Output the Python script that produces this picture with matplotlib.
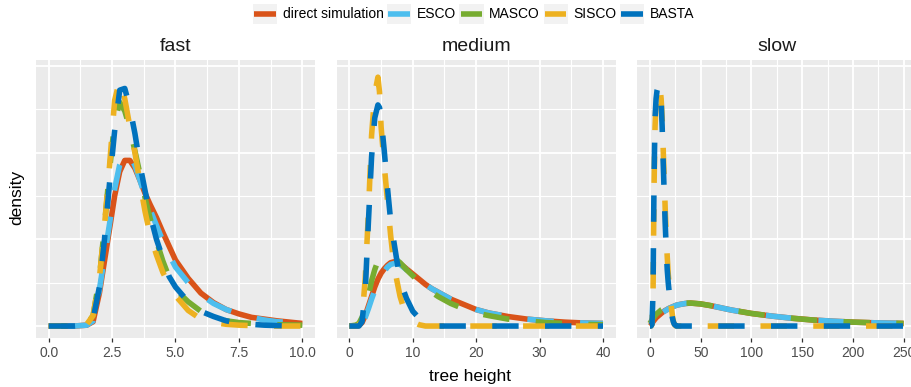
import matplotlib
matplotlib.use("Agg")
import matplotlib.pyplot as plt
from matplotlib.lines import Line2D
from matplotlib.patches import Rectangle
from matplotlib.legend_handler import HandlerBase

plt.rcParams['font.family'] = ['Liberation Sans', 'DejaVu Sans']
plt.rcParams['lines.scale_dashes'] = False

# ---------------- data ----------------
series_names = ["direct simulation", "ESCO", "MASCO", "SISCO", "BASTA"]
series_colors = ["#D95319", "#4DBEEE", "#77AC30", "#EDB120", "#0072BD"]
panel_titles = ["fast", "medium", "slow"]

fast_x = [0, 1, 1.5, 1.75, 2.0, 2.2, 2.4, 2.6, 2.8, 3.0, 3.2, 3.4, 3.6, 3.8, 4.0,
          4.25, 4.5, 4.75, 5.0, 5.5, 6.0, 6.5, 7.0, 7.5, 8.0, 8.5, 9.0, 10.0]
fast_direct = [0, 0, 0.01, 0.05, 0.38, 0.75, 1.12, 1.5, 1.78, 1.91, 1.91, 1.82, 1.68, 1.53, 1.40,
               1.25, 1.08, 0.92, 0.76, 0.55, 0.38, 0.27, 0.19, 0.14, 0.10, 0.08, 0.06, 0.03]
fast_esco = [0, 0, 0.01, 0.06, 0.42, 0.8, 1.18, 1.58, 1.86, 1.99, 1.97, 1.85, 1.68, 1.5, 1.34,
             1.16, 0.98, 0.82, 0.68, 0.5, 0.36, 0.26, 0.19, 0.14, 0.10, 0.07, 0.05, 0.03]
fast_masco = [0, 0, 0.02, 0.12, 0.55, 1.15, 1.8, 2.35, 2.58, 2.48, 2.28, 2.02, 1.75, 1.48, 1.24,
              0.98, 0.75, 0.56, 0.42, 0.28, 0.17, 0.10, 0.06, 0.04, 0.03, 0.02, 0.015, 0.01]
fast_sisco = [0, 0, 0.02, 0.12, 0.55, 1.15, 1.85, 2.6, 2.84, 2.62, 2.3, 2.0, 1.65, 1.32, 1.05,
              0.82, 0.62, 0.47, 0.35, 0.18, 0.08, 0.04, 0.02, 0.01, 0.005, 0, 0, 0]
fast_basta = [0, 0, 0.01, 0.08, 0.45, 1.0, 1.65, 2.25, 2.72, 2.74, 2.52, 2.22, 1.86, 1.56, 1.28,
              1.0, 0.78, 0.57, 0.45, 0.28, 0.17, 0.11, 0.06, 0.03, 0.02, 0.01, 0.005, 0]

medium_x = [0, 1, 1.5, 2, 2.5, 3, 3.5, 4, 4.5, 4.75, 5, 5.5, 6, 6.5, 7, 7.5, 8, 8.5, 9,
            10, 11, 12, 13, 14, 16, 18, 20, 22, 25, 28, 31, 34, 37, 40]
medium_direct = [0, 0, 0.005, 0.04, 0.12, 0.23, 0.34, 0.45, 0.54, 0.575, 0.61, 0.66, 0.70, 0.73,
                 0.74, 0.74, 0.72, 0.69, 0.66, 0.60, 0.54, 0.48, 0.43, 0.39, 0.31, 0.25, 0.19,
                 0.15, 0.11, 0.08, 0.06, 0.045, 0.035, 0.03]
medium_esco = [0, 0, 0.005, 0.03, 0.1, 0.2, 0.31, 0.41, 0.5, 0.535, 0.57, 0.63, 0.68, 0.71,
               0.72, 0.72, 0.71, 0.68, 0.65, 0.6, 0.54, 0.48, 0.43, 0.39, 0.31, 0.25, 0.19,
               0.15, 0.11, 0.08, 0.06, 0.045, 0.035, 0.03]
medium_masco = [0, 0.01, 0.03, 0.1, 0.2, 0.35, 0.52, 0.65, 0.75, 0.78, 0.8, 0.82, 0.82, 0.81,
                0.79, 0.76, 0.73, 0.69, 0.65, 0.58, 0.51, 0.45, 0.39, 0.34, 0.26, 0.2, 0.15,
                0.12, 0.08, 0.06, 0.04, 0.03, 0.02, 0.015]
medium_sisco = [0, 0, 0.01, 0.08, 0.55, 1.3, 2.2, 2.68, 2.87, 2.7, 2.3, 1.85, 1.45, 1.05, 0.72,
                0.52, 0.34, 0.22, 0.14, 0.05, 0.015, 0, 0, 0, 0, 0, 0, 0, 0, 0, 0, 0, 0, 0]
medium_basta = [0, 0, 0, 0.05, 0.4, 1.2, 1.95, 2.4, 2.55, 2.52, 2.4, 2.02, 1.6, 1.22, 0.98,
                0.75, 0.55, 0.42, 0.32, 0.17, 0.09, 0.03, 0.01, 0, 0, 0, 0, 0, 0, 0, 0, 0, 0, 0]

slow_x = [0, 1, 2, 3, 4, 5, 6, 7, 8, 9, 10, 11, 12, 13, 14, 15, 16, 17, 18, 19, 20, 21, 22,
          23, 24, 25, 26, 28, 30, 35, 40, 50, 60, 70, 80, 100, 120, 140, 160, 180, 200, 225, 250]
slow_direct = [0, 0.01, 0.03, 0.05, 0.065, 0.08, 0.095, 0.105, 0.115, 0.125, 0.135, 0.145, 0.155,
               0.165, 0.17, 0.18, 0.185, 0.19, 0.2, 0.205, 0.21, 0.215, 0.22, 0.225, 0.23, 0.235,
               0.24, 0.245, 0.25, 0.26, 0.265, 0.255, 0.235, 0.21, 0.185, 0.145, 0.115, 0.09,
               0.07, 0.056, 0.045, 0.036, 0.03]
slow_esco = [0, 0.01, 0.025, 0.045, 0.06, 0.075, 0.09, 0.1, 0.11, 0.12, 0.13, 0.14, 0.15,
             0.16, 0.168, 0.176, 0.183, 0.19, 0.198, 0.204, 0.21, 0.215, 0.22, 0.225, 0.23, 0.235,
             0.24, 0.245, 0.25, 0.26, 0.265, 0.255, 0.235, 0.21, 0.185, 0.145, 0.115, 0.09,
             0.07, 0.056, 0.045, 0.036, 0.03]
slow_masco = [0.03, 0.05, 0.07, 0.09, 0.105, 0.12, 0.135, 0.145, 0.155, 0.165, 0.175, 0.185,
              0.19, 0.2, 0.205, 0.21, 0.215, 0.22, 0.225, 0.23, 0.235, 0.24, 0.24, 0.245, 0.25,
              0.25, 0.255, 0.26, 0.26, 0.265, 0.265, 0.255, 0.235, 0.21, 0.185, 0.145, 0.115,
              0.09, 0.07, 0.056, 0.045, 0.036, 0.03]
slow_sisco = [0, 0, 0.02, 0.35, 1.6, 2.3, 2.58, 2.7, 2.75, 2.76, 2.74, 2.62, 2.4, 2.05, 1.7,
              1.35, 1.05, 0.8, 0.6, 0.45, 0.33, 0.22, 0.13, 0.06, 0.02, 0.005, 0, 0, 0, 0, 0,
              0, 0, 0, 0, 0, 0, 0, 0, 0, 0, 0, 0]
slow_basta = [0, 0, 0.02, 0.4, 1.7, 2.4, 2.62, 2.72, 2.76, 2.78, 2.76, 2.6, 2.3, 1.9, 1.53,
              1.18, 0.9, 0.65, 0.5, 0.38, 0.28, 0.18, 0.1, 0.05, 0.02, 0.01, 0, 0, 0, 0, 0,
              0, 0, 0, 0, 0, 0, 0, 0, 0, 0, 0, 0]

fast_ticks = [0.0, 2.5, 5.0, 7.5, 10.0]
fast_ticklabels = ["0.0", "2.5", "5.0", "7.5", "10.0"]
medium_ticks = [0, 10, 20, 30, 40]
medium_ticklabels = ["0", "10", "20", "30", "40"]
slow_ticks = [0, 50, 100, 150, 200, 250]
slow_ticklabels = ["0", "50", "100", "150", "200", "250"]

panels = [
    (fast_x, [fast_direct, fast_esco, fast_masco, fast_sisco, fast_basta],
     fast_ticks, fast_ticklabels, (-0.5, 10.5)),
    (medium_x, [medium_direct, medium_esco, medium_masco, medium_sisco, medium_basta],
     medium_ticks, medium_ticklabels, (-2, 42)),
    (slow_x, [slow_direct, slow_esco, slow_masco, slow_sisco, slow_basta],
     slow_ticks, slow_ticklabels, (-12.5, 262.5)),
]

# ---------------- figure ----------------
W, H = 912, 387
fig = plt.figure(figsize=(W / 100, H / 100), dpi=100)

panel_lefts = [36, 336.7, 637.3]
panel_w = 279
panel_top, panel_bot = 60, 338

LW = 4.0
dash_on = 19.0   # points
dash_off = 19.0
dash_offsets = [None, 24.0, 6.0, 10.0, 0.0]

for (xs, ys_list, ticks, ticklabels, xlim), left, title in zip(panels, panel_lefts, panel_titles):
    ax = fig.add_axes([left / W, 1 - panel_bot / H, panel_w / W, (panel_bot - panel_top) / H])
    ax.set_facecolor("#EBEBEB")
    for s in ax.spines.values():
        s.set_visible(False)
    ax.set_xlim(*xlim)
    ax.set_ylim(-0.138, 3.068)
    ax.set_xticks(ticks)
    ax.set_xticklabels(ticklabels)
    step = ticks[1] - ticks[0]
    minors = [t + step / 2 for t in ticks[:-1]]
    ax.set_xticks(minors, minor=True)
    ax.set_yticks([0, 1, 2, 3])
    ax.set_yticks([0.5, 1.5, 2.5], minor=True)
    ax.grid(True, which="major", color="white", lw=1.3)
    ax.grid(True, which="minor", color="white", lw=0.8)
    ax.set_axisbelow(True)
    ax.tick_params(axis="x", which="major", length=3.0, width=0.9, color="#333333",
                   labelsize=10, labelcolor="#4D4D4D", pad=2.5)
    ax.tick_params(axis="x", which="minor", length=0)
    ax.tick_params(axis="y", which="both", length=0, labelleft=False)
    ax.set_title(title, fontsize=14, pad=6.7, color="#1A1A1A")

    for i, (ys, col) in enumerate(zip(ys_list, series_colors)):
        if dash_offsets[i] is None:
            ax.plot(xs, ys, color=col, lw=LW, solid_capstyle="butt",
                    solid_joinstyle="round", zorder=2 + i)
        else:
            ax.plot(xs, ys, color=col, lw=LW,
                    linestyle=(dash_offsets[i], (dash_on, dash_off)),
                    dash_capstyle="butt", dash_joinstyle="round", zorder=2 + i)

fig.text(470 / W, 1 - 377 / H, "tree height", ha="center", va="center", fontsize=12.5)
fig.text(17 / W, 1 - 197 / H, "density", ha="center", va="center", rotation=90, fontsize=12.5)


class KeyHandler(HandlerBase):
    def create_artists(self, legend, orig_handle, xdescent, ydescent, width, height,
                       fontsize, trans):
        r = Rectangle((-xdescent, -ydescent), width, height, facecolor="#F2F2F2",
                      edgecolor="none", transform=trans)
        y = -ydescent + height / 2
        ln = Line2D([-xdescent + 1, -xdescent + width - 1], [y, y],
                    color=orig_handle.get_color(), lw=orig_handle.get_linewidth(),
                    solid_capstyle="butt", transform=trans)
        return [r, ln]


handles = [Line2D([], [], color=c, lw=LW) for c in series_colors]
fig.legend(handles, series_names, loc="center", bbox_to_anchor=(473.5 / W, 1 - 14 / H),
           ncol=5, frameon=False, fontsize=10, handlelength=1.75, handleheight=1.75,
           handletextpad=0.4, columnspacing=0.25, borderpad=0, borderaxespad=0,
           handler_map={Line2D: KeyHandler()})

fig.savefig("out.png", dpi=100)
